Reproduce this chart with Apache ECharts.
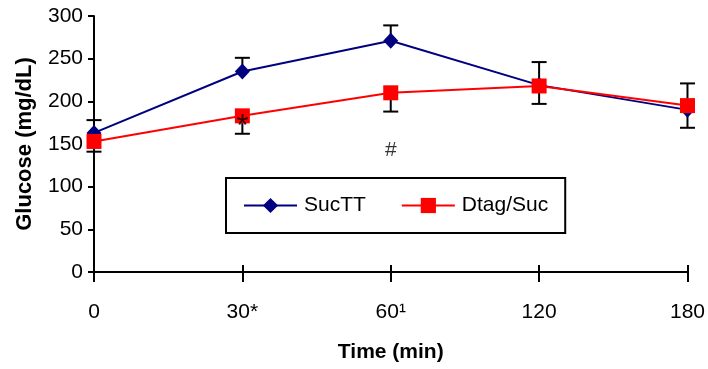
<!DOCTYPE html>
<html>
<head>
<meta charset="utf-8">
<script src="https://cdn.jsdelivr.net/npm/echarts@6/dist/echarts.min.js"></script>
<style>
  html, body { margin: 0; padding: 0; background: #fff; }
  #chart { width: 708px; height: 369px; }
</style>
</head>
<body>
<div id="chart"></div>
<script>
const categories = ['0', '30*', '60\u00b9', '120', '180']
const yTicks = [0, 50, 100, 150, 200, 250, 300]

const sucTT = [163, 235, 271, 219, 190]
const dtagSuc = [153, 183, 210, 218, 195]

// whisker end for each series (one-sided bars as in the figure)
const sucTTErrEnd = [178, 251, 289, 246, 169]
const dtagSucErrEnd = [141, 162, 188, 197, 221]

// significance marks
const markCats = ['30*', '60\u00b9']
const markVals = [170, 143]
const markText = ['*', '#']
const markSize = [32, 21]

const FONT = 'Liberation Sans, Arial, sans-serif'

function errorBars (values, ends) {
  return {
    type: 'custom',
    z: 1,
    silent: true,
    data: values.map((v, i) => [i, v, ends[i]]),
    renderItem: (params, api) => {
      const p0 = api.coord([api.value(0), api.value(1)])
      const p1 = api.coord([api.value(0), api.value(2)])
      const half = 7.5
      const style = { stroke: '#000', lineWidth: 2 }
      return {
        type: 'group',
        children: [
          { type: 'line', shape: { x1: p0[0], y1: p0[1], x2: p1[0], y2: p1[1] }, style },
          { type: 'line', shape: { x1: p1[0] - half, y1: p1[1], x2: p1[0] + half, y2: p1[1] }, style }
        ]
      }
    }
  }
}

const chart = echarts.init(document.getElementById('chart'), null, { renderer: 'canvas' })

chart.setOption({
  animation: false,
  backgroundColor: '#fff',
  textStyle: { fontFamily: FONT },
  grid: { left: 94, right: 18, top: 16, bottom: 97 },
  legend: {
    left: 226,
    top: 178,
    padding: [17, 17, 17, 17],
    borderColor: '#000',
    borderWidth: 2,
    borderRadius: 0,
    itemWidth: 53,
    itemHeight: 19,
    itemGap: 35,
    textStyle: { fontSize: 21, color: '#000', fontFamily: FONT, padding: [0, 0, 0, 2] },
    data: ['SucTT', 'Dtag/Suc']
  },
  xAxis: [{
    type: 'category',
    data: categories,
    boundaryGap: false,
    name: 'Time (min)',
    nameLocation: 'middle',
    nameGap: 70,
    nameTextStyle: { fontSize: 21, fontWeight: 'bold', color: '#000', fontFamily: FONT },
    axisLine: { lineStyle: { color: '#000', width: 2 } },
    axisTick: { show: true, inside: false, length: 10, lineStyle: { color: '#000', width: 2 } },
    axisLabel: { fontSize: 21, color: '#000', margin: 30, fontFamily: FONT },
    splitLine: { show: false }
  }, {
    type: 'category',
    data: categories,
    boundaryGap: false,
    position: 'bottom',
    axisLine: { show: false },
    axisTick: { show: true, inside: true, length: 7, lineStyle: { color: '#000', width: 2 } },
    axisLabel: { show: false },
    splitLine: { show: false }
  }],
  yAxis: {
    type: 'value',
    min: yTicks[0],
    max: yTicks[yTicks.length - 1],
    interval: yTicks[1] - yTicks[0],
    name: 'Glucose (mg/dL)',
    nameLocation: 'middle',
    nameGap: 58,
    nameTextStyle: { fontSize: 22, fontWeight: 'bold', color: '#000', fontFamily: FONT },
    axisLine: { show: true, lineStyle: { color: '#000', width: 2 } },
    axisTick: { show: true, length: 6, lineStyle: { color: '#000', width: 2 } },
    axisLabel: { fontSize: 21, color: '#000', margin: 11, fontFamily: FONT },
    splitLine: { show: false }
  },
  series: [
    errorBars(sucTT, sucTTErrEnd),
    errorBars(dtagSuc, dtagSucErrEnd),
    {
      name: 'SucTT',
      type: 'line',
      z: 3,
      data: sucTT,
      symbol: 'diamond',
      symbolSize: [15, 16],
      color: '#000080',
      lineStyle: { color: '#000080', width: 2 },
      itemStyle: { color: '#000080' }
    },
    {
      name: 'Dtag/Suc',
      type: 'line',
      z: 4,
      data: dtagSuc,
      symbol: 'rect',
      symbolSize: 15,
      color: '#ff0000',
      lineStyle: { color: '#ff0000', width: 2 },
      itemStyle: { color: '#ff0000' }
    },
    {
      type: 'scatter',
      z: 5,
      silent: true,
      symbolSize: 1,
      itemStyle: { color: 'rgba(0,0,0,0)' },
      data: markCats.map((c, i) => ({
        value: [c, markVals[i]],
        label: { formatter: markText[i], fontSize: markSize[i] }
      })),
      label: {
        show: true,
        position: 'inside',
        color: '#000',
        fontFamily: FONT
      }
    }
  ]
})
</script>
</body>
</html>
